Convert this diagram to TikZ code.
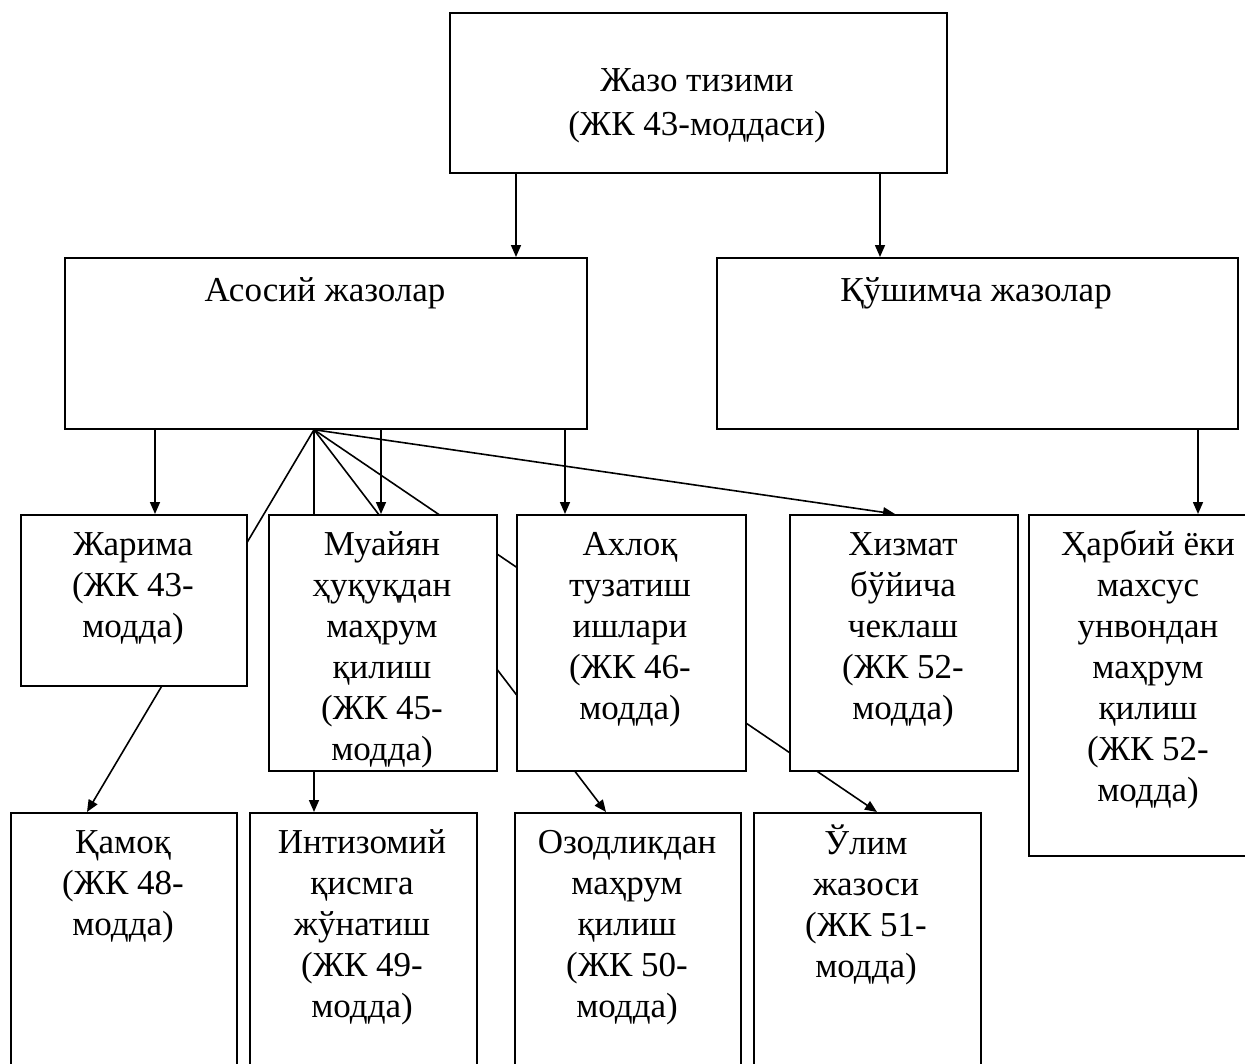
\documentclass[tikz,border=0pt]{standalone}
\usepackage{fontspec}
\setmainfont{Liberation Serif}
\usetikzlibrary{arrows.meta}
\pgfdeclarelayer{bg}
\pgfsetlayers{bg,main}
\begin{document}
\begin{tikzpicture}[x=1pt,y=-1pt,
  box/.style={draw, line width=1.7pt, fill=white, inner sep=0pt, anchor=north west},
  txt/.style={font=\fontsize{35}{41}\selectfont, align=center, inner sep=0pt, anchor=north},
  arr/.style={line width=1.6pt, -{Triangle[length=12pt,width=10pt]}}]
\useasboundingbox (0,0) rectangle (1245,1063);
\clip (0,0) rectangle (1245,1063);
% boxes
\node[box, minimum width=497pt, minimum height=160pt] (top) at (449,12) {};
\node[box, minimum width=522pt, minimum height=171pt] (asosiy) at (64,257) {};
\node[box, minimum width=521pt, minimum height=171pt] (qushimcha) at (716,257) {};
\node[box, minimum width=226pt, minimum height=171pt] (zharima) at (20,514) {};
\node[box, minimum width=228pt, minimum height=256pt] (muayyan) at (268,514) {};
\node[box, minimum width=229pt, minimum height=256pt] (axloq) at (516,514) {};
\node[box, minimum width=228pt, minimum height=256pt] (xizmat) at (789,514) {};
\node[box, minimum width=240pt, minimum height=341pt] (harbiy) at (1028,514) {};
\node[box, minimum width=226pt, minimum height=298pt] (qamoq) at (10,812) {};
\node[box, minimum width=227pt, minimum height=298pt] (intizomiy) at (249,812) {};
\node[box, minimum width=226pt, minimum height=298pt] (ozodlik) at (514,812) {};
\node[box, minimum width=227pt, minimum height=298pt] (ulim) at (753,812) {};
% texts
\node[txt, font=\fontsize{35}{44}\selectfont] (topT) at (697,60) {\strut Жазо тизими\\(ЖК 43-моддаси)};
\node[txt] (asosiyT) at (325,273) {\strut Асосий жазолар};
\node[txt] (qushimchaT) at (976,273) {\strut Қўшимча жазолар};
\node[txt] (zharimaT) at (133,527) {\strut Жарима\\(ЖК 43-\\модда)};
\node[txt] (muayyanT) at (382,527) {\strut Муайян\\ҳуқуқдан\\маҳрум\\қилиш\\(ЖК 45-\\модда)};
\node[txt] (axloqT) at (630,527) {\strut Ахлоқ\\тузатиш\\ишлари\\(ЖК 46-\\модда)};
\node[txt] (xizmatT) at (903,527) {\strut Хизмат\\бўйича\\чеклаш\\(ЖК 52-\\модда)};
\node[txt] (harbiyT) at (1148,527) {\strut Ҳарбий ёки\\махсус\\унвондан\\маҳрум\\қилиш\\(ЖК 52-\\модда)};
\node[txt] (qamoqT) at (123,825) {\strut Қамоқ\\(ЖК 48-\\модда)};
\node[txt] (intizomiyT) at (362,825) {\strut Интизомий\\қисмга\\жўнатиш\\(ЖК 49-\\модда)};
\node[txt] (ozodlikT) at (627,825) {\strut Озодликдан\\маҳрум\\қилиш\\(ЖК 50-\\модда)};
\node[txt] (ulimT) at (866,825) {\strut Ўлим\\жазоси\\(ЖК 51-\\модда)};
% guide x positions
\coordinate (g1) at (516,0);
\coordinate (g2) at (880,0);
\coordinate (g3) at (155,0);
\coordinate (g4) at (381,0);
\coordinate (g5) at (565,0);
\coordinate (g6) at (1198,0);
\coordinate (gh) at (314,0);
\coordinate (g7) at (895,0);
\coordinate (g8) at (87,0);
\coordinate (g9) at (606,0);
\coordinate (g10) at (877,0);
\coordinate (hub) at (asosiy.south -| gh);
\begin{pgfonlayer}{bg}
\draw[arr] (top.south -| g1) -- (asosiy.north -| g1);
\draw[arr] (top.south -| g2) -- (qushimcha.north -| g2);
\draw[arr] (asosiy.south -| g3) -- (zharima.north -| g3);
\draw[arr] (asosiy.south -| g4) -- (muayyan.north -| g4);
\draw[arr] (asosiy.south -| g5) -- (axloq.north -| g5);
\draw[arr] (qushimcha.south -| g6) -- (harbiy.north -| g6);
\draw[arr] (hub) -- (xizmat.north -| g7);
\draw[arr] (hub) -- (qamoq.north -| g8);
\draw[arr] (hub) -- (intizomiy.north -| hub);
\draw[arr] (hub) -- (ozodlik.north -| g9);
\draw[arr] (hub) -- (ulim.north -| g10);
\end{pgfonlayer}
\end{tikzpicture}
\end{document}
